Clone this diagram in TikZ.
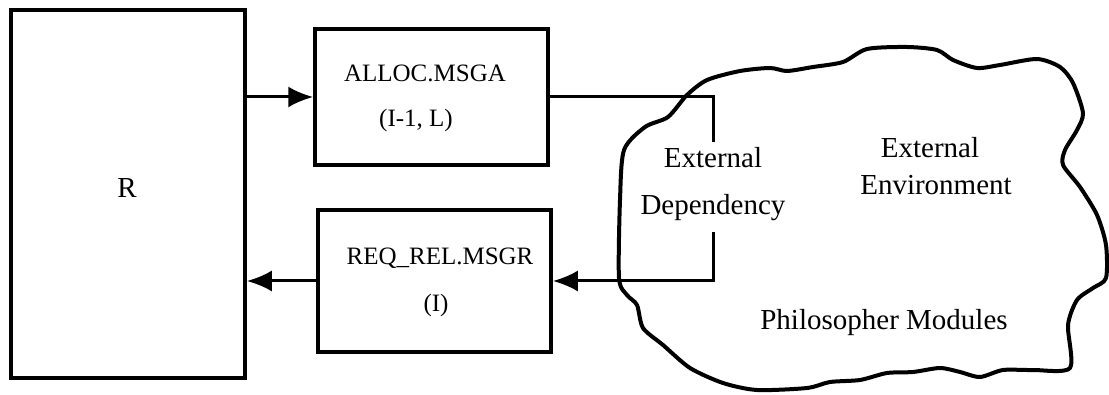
\documentclass[tikz,border=0pt]{standalone}
\usepackage{fontspec}
\setmainfont{Liberation Serif}
\usetikzlibrary{arrows.meta,calc}
\tikzset{
  box/.style={draw, line width=3.5pt, rectangle, inner sep=0pt},
  conn/.style={line width=3pt},
  arr/.style={conn, -{Latex[length=25pt,width=21pt]}},
  cloudline/.style={line width=4pt, line join=round},
  boxtxt/.style={font=\fontsize{25}{30}\selectfont, anchor=base, inner sep=0pt},
  bigtxt/.style={font=\fontsize{29}{34}\selectfont, anchor=base, inner sep=0pt},
}
\begin{document}
\begin{tikzpicture}[x=1pt,y=-1pt]
\useasboundingbox (0,0) rectangle (1109,395);
% boxes
\node[box, minimum width=234pt, minimum height=368pt] (R) at (128,194) {};
\node[box, minimum width=233pt, minimum height=136pt] (alloc) at (431.5,97) {};
\node[box, minimum width=233pt, minimum height=142pt] (req) at (434.5,281) {};
% texts
\node[bigtxt] (rlbl) at (127,198) {R};
\node[boxtxt] (a1) at (425,82) {ALLOC.MSGA};
\node[boxtxt] (a2) at (416,127) {(I-1, L)};
\node[boxtxt] (q1) at (440,265) {REQ\_REL.MSGR};
\node[boxtxt] (q2) at (436,312) {(I)};
\node[bigtxt] (ed1) at (713,168) {External};
\node[bigtxt] (ed2) at (713,215) {Dependency};
\node[bigtxt] (ee1) at (930,158) {External};
\node[bigtxt] (ee2) at (936,195) {Environment};
\node[bigtxt] (pm) at (884,330) {Philosopher Modules};
% cloud
\draw[cloudline] plot[smooth cycle, tension=0.45] coordinates {
 (624,150) (645,127) (668,117) (687,95) (707,80) (740,71) (770,68) (787,71)
 (813,67) (843,62) (867,49) (907,47) (937,50) (953,60) (977,68) (1000,65)
 (1037,59) (1060,67) (1073,83) (1083,113) (1077,130) (1065,150) (1063,165)
 (1080,187) (1097,215) (1106,245) (1106,278) (1093,288) (1077,300) (1068,325)
 (1070,368) (1033,370) (1003,370) (980,377) (960,372) (940,368) (913,372)
 (887,373) (860,380) (830,382) (807,388) (757,390) (723,383) (690,368)
 (663,345) (643,328) (637,305) (627,295) (619,278) (620,200)};
% connectors
\coordinate (d1) at (713,142);
\coordinate (d2) at (713,232);
\draw[arr] (R.east |- alloc.west) -- (alloc.west);
\draw[arr] (req.west) -- (R.east |- req.west);
\draw[conn] (alloc.east) -| (d1);
\draw[arr] (d2) |- (req.east);
\end{tikzpicture}
\end{document}
